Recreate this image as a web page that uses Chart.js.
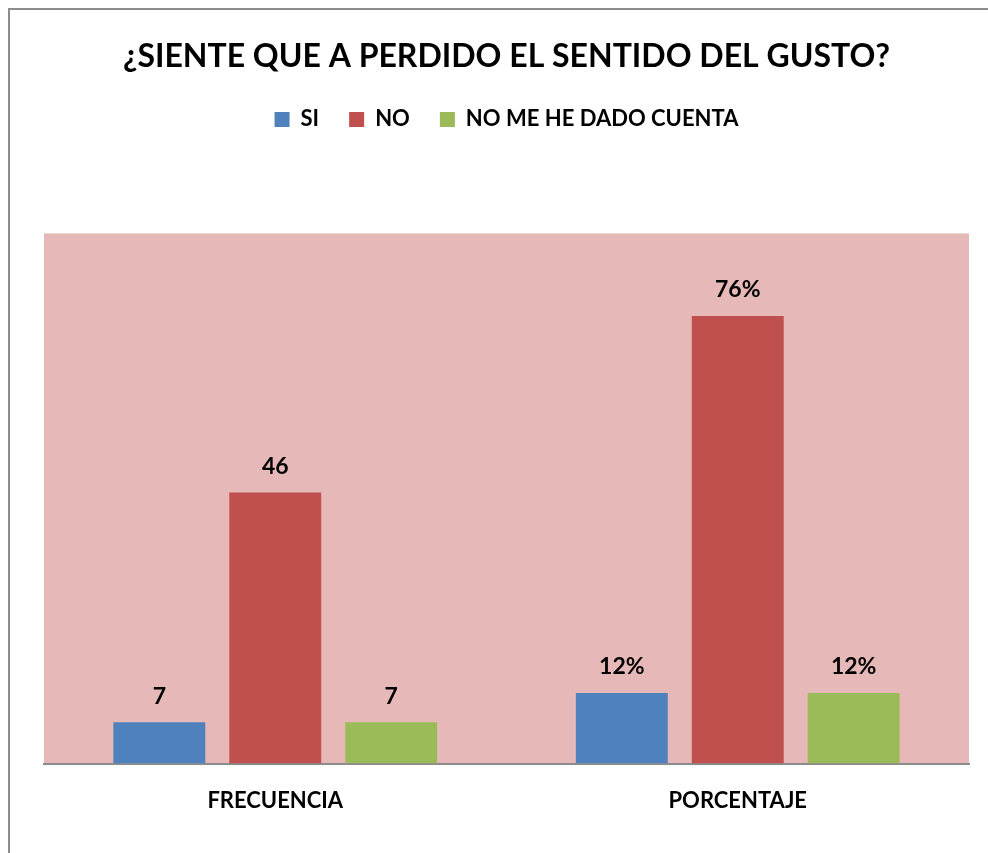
<!DOCTYPE html>
<html>
<head>
<meta charset="utf-8">
<script src="https://cdn.jsdelivr.net/npm/chart.js@4/dist/chart.umd.min.js"></script>
<style>
    html, body { margin: 0; padding: 0; background: #fff; }
    #wrap { position: relative; width: 988px; height: 853px; overflow: hidden; }
    #frame { position: absolute; left: 8px; top: 8px; width: 1100px; height: 1000px; border-left: 2px solid #8c8c8c; border-top: 2px solid #8c8c8c; }
    #chart { position: absolute; left: 0; top: 0; }
</style>
</head>
<body>
<div id="wrap">
    <div id="frame"></div>
    <canvas id="chart" width="988" height="853"></canvas>
</div>
<script>
const categories = ['FRECUENCIA', 'PORCENTAJE'];
const valueSuffix = ['', '%'];
const siValues = [7, 12];
const noValues = [46, 76];
const noSeValues = [7, 12];
const yMax = 90;

const font = 'Lato, "Open Sans", sans-serif';

const legendGap = {
    id: 'legendGap',
    beforeInit(chart) {
        const fit = chart.legend.fit;
        chart.legend.fit = function () {
            fit.bind(chart.legend)();
            this.height += 93;
        };
    }
};

const plotBackground = {
    id: 'plotBackground',
    beforeDraw(chart) {
        const { ctx, chartArea } = chart;
        ctx.save();
        ctx.fillStyle = '#E6B9B8';
        ctx.fillRect(chartArea.left, chartArea.top, chartArea.right - chartArea.left, chartArea.bottom - chartArea.top);
        ctx.restore();
    }
};

const valueLabels = {
    id: 'valueLabels',
    afterDatasetsDraw(chart) {
        const ctx = chart.ctx;
        ctx.save();
        ctx.font = 'bold 23px ' + font;
        ctx.fillStyle = '#000';
        ctx.textAlign = 'center';
        ctx.textBaseline = 'middle';
        chart.data.datasets.forEach((ds, i) => {
            chart.getDatasetMeta(i).data.forEach((bar, j) => {
                ctx.fillText(ds.data[j] + valueSuffix[j], bar.x, bar.y - 26);
            });
        });
        ctx.restore();
    }
};

new Chart(document.getElementById('chart').getContext('2d'), {
    type: 'bar',
    data: {
        labels: categories,
        datasets: [
            { label: 'SI', data: siValues, backgroundColor: '#4F81BD' },
            { label: 'NO', data: noValues, backgroundColor: '#C0504D' },
            { label: 'NO ME HE DADO CUENTA', data: noSeValues, backgroundColor: '#9BBB59' }
        ]
    },
    options: {
        responsive: false,
        animation: false,
        categoryPercentage: 0.752,
        barPercentage: 0.793,
        layout: { padding: { left: 44, right: 19, top: 27, bottom: 15 } },
        scales: {
            x: {
                grid: { display: false, drawTicks: false },
                border: { display: true, color: '#8c8c8c', width: 2 },
                ticks: { color: '#000', font: { family: font, size: 22, weight: 'bold' }, padding: 24 }
            },
            y: {
                display: false,
                min: 0,
                max: yMax
            }
        },
        plugins: {
            title: {
                display: true,
                text: '¿SIENTE QUE A PERDIDO EL SENTIDO DEL GUSTO?',
                color: '#000',
                font: { family: font, size: 32, weight: 'bold' },
                padding: { top: 10, bottom: 3 }
            },
            legend: {
                labels: {
                    color: '#000',
                    font: { family: font, size: 22, weight: 'bold' },
                    boxWidth: 15,
                    boxHeight: 15,
                    padding: 30
                }
            },
            tooltip: { enabled: false }
        }
    },
    plugins: [legendGap, plotBackground, valueLabels]
});
</script>
</body>
</html>
